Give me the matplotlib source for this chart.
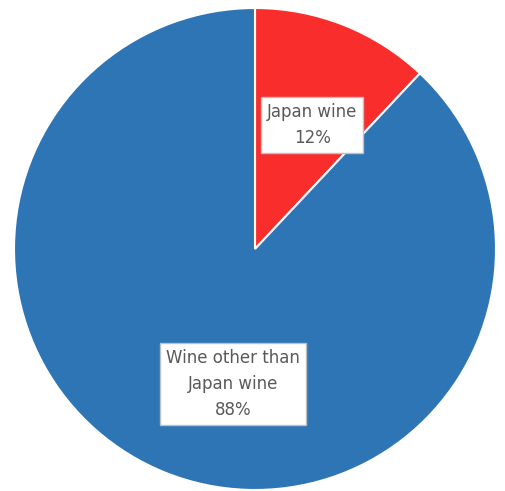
import matplotlib.pyplot as plt
import numpy as np

labels = ["Japan wine", "Wine other than\nJapan wine"]
shares = [12, 88]
colors = ["#FA2D2D", "#2E75B6"]

# where the label boxes sit (pie radius = 1)
label_pos = [(0.237, 0.515), (-0.091, -0.56)]

fig = plt.figure(figsize=(5.05, 4.91), dpi=100)
ax = fig.add_axes([0, 0, 1, 1])

wedges, _ = ax.pie(shares, colors=colors, startangle=90, counterclock=False,
                   wedgeprops=dict(edgecolor="white", linewidth=1.5))

for lab, val, (x, y) in zip(labels, shares, label_pos):
    ax.text(x, y, "%s\n%d%%" % (lab, val), ha="center", va="center",
            fontsize=12, color="#595959", linespacing=1.6,
            bbox=dict(boxstyle="square,pad=0.35", fc="white", ec="#BFBFBF", lw=1))

ax.set_xlim(-255 / 241, 250 / 241)
ax.set_ylim(-242 / 241, 249 / 241)
ax.set_aspect("auto")
ax.axis("off")

fig.savefig("out.png", dpi=100, facecolor="white")
